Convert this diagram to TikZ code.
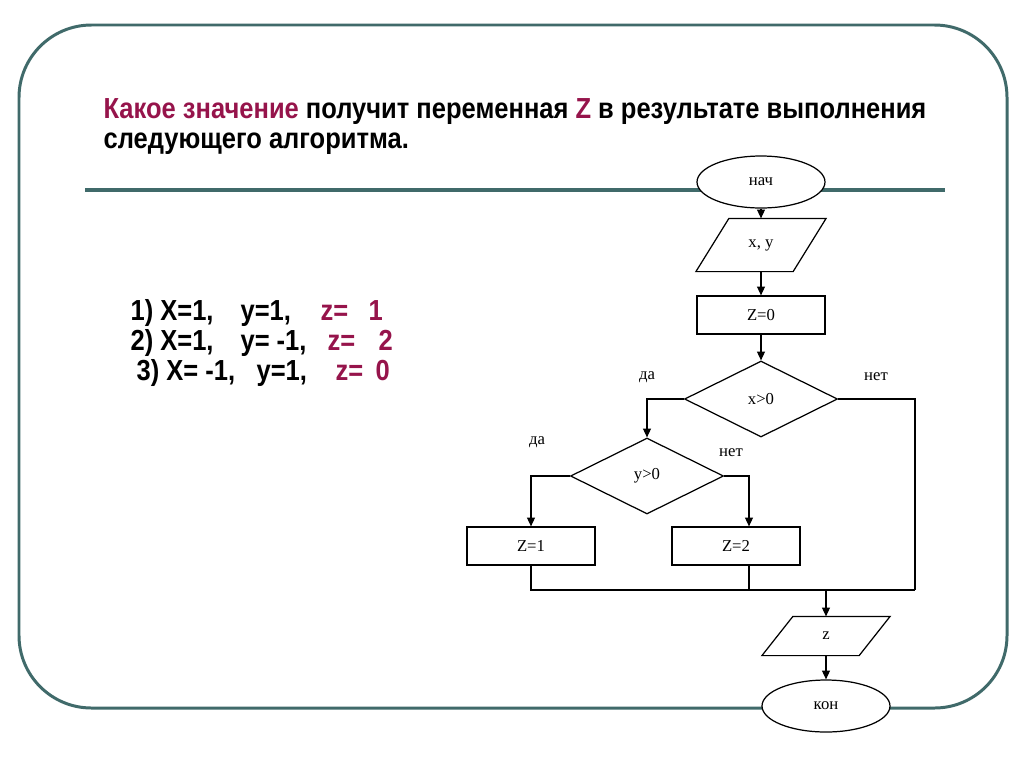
\documentclass[tikz,border=0pt]{standalone}
\usepackage{fontspec}
\setmainfont{Liberation Serif}
\newfontfamily\headfont{Liberation Sans}[FakeStretch=0.88]
\usetikzlibrary{shapes.geometric,arrows.meta}
\definecolor{framegreen}{RGB}{64,106,106}
\definecolor{accent}{RGB}{150,20,75}

\begin{document}
\begin{tikzpicture}[x=0.02cm,y=-0.02cm,>={Triangle[length=5pt,width=4.5pt]},
        line width=0.7pt,
        every node/.style={font=\fontsize{9.5}{11}\selectfont},
        terminal/.style={ellipse,draw,fill=white,minimum width=2.56cm,minimum height=1.04cm,inner sep=0pt},
        io/.style={rectangle,minimum width=1.92cm,inner sep=0pt},
        process/.style={rectangle,draw,fill=white,minimum width=2.56cm,minimum height=0.76cm,inner sep=0pt},
        decision/.style={diamond,draw,fill=white,minimum width=3.06cm,minimum height=1.52cm,inner sep=0pt},
        head/.style={anchor=base west,inner sep=0pt,font=\headfont\bfseries\fontsize{16.5}{20}\selectfont}]
        \useasboundingbox (0,0) rectangle (1024,768);
        \fill[white] (0,0) rectangle (1024,768);
        % slide frame
        \draw[framegreen,line width=1.7pt,rounded corners=1.45cm] (19,25) rectangle (1007,708);
        \draw[framegreen,line width=2.8pt] (85,190) -- (945,190);
        % question
        \node[head] (title1) at (103,118) {\textcolor{accent}{Какое значение} получит переменная \textcolor{accent}{Z} в результате выполнения};
        \node[head] (title2) at (103,148) {следующего алгоритма.};
        \node[head] (case1) at (130,320) {\makebox[2.2cm][l]{1) X=1,}\makebox[1.6cm][l]{y=1,}\textcolor{accent}{\makebox[0.96cm][l]{z=}1}};
        \node[head] (case2) at (130,350) {\makebox[2.2cm][l]{2) X=1,}\makebox[1.74cm][l]{y= -1,}\textcolor{accent}{\makebox[1.02cm][l]{z=}2}};
        \node[head] (case3) at (136,380) {\makebox[2.4cm][l]{3) X= -1,}\makebox[1.58cm][l]{y=1,}\textcolor{accent}{\makebox[0.8cm][l]{z=}0}};
        % flowchart
        \node[terminal] (start) at (761,182) {нач};
        \node[io,minimum height=1.04cm] (input) at (761,245) {x, y};
        \draw ([xshift=0.33cm]input.north west) -- ([xshift=0.33cm]input.north east)
          -- ([xshift=-0.33cm]input.south east) -- ([xshift=-0.33cm]input.south west) -- cycle;
        \node[process] (init) at (761,315) {Z=0};
        \node[decision] (ifx) at (761,399) {x>0};
        \node[decision] (ify) at (647,476) {y>0};
        \node[process] (setone) at (531,546) {Z=1};
        \node[process] (settwo) at (736,546) {Z=2};
        \node[io,minimum height=0.76cm] (output) at (826,636) {z};
        \draw ([xshift=0.31cm]output.north west) -- ([xshift=0.31cm]output.north east)
          -- ([xshift=-0.31cm]output.south east) -- ([xshift=-0.31cm]output.south west) -- cycle;
        \node[terminal] (stop) at (826,706) {кон};
        \node (yesx) at (647,377) {да};
        \node (nox) at (876,377) {нет};
        \node (yesy) at (537,442) {да};
        \node (noy) at (731,453) {нет};
        \coordinate (twoin) at ([xshift=0.26cm]settwo.north);
        \coordinate (twoout) at ([xshift=0.26cm]settwo.south);
        \coordinate (mergeR) at (915,590);
        \coordinate (mergeM) at (output.north |- mergeR);
        \draw[->] (start) -- (input);
        \draw[->] (input) -- (init);
        \draw[->] (init) -- (ifx);
        \draw[->] (ifx.west) -| (ify.north);
        \draw[->] (ify.west) -| (setone.north);
        \draw[->] (ify.east) -| (twoin);
        \draw (ifx.east) -| (mergeR);
        \draw (setone.south) |- (mergeR);
        \draw (twoout) -- (twoout |- mergeR);
        \draw[->] (mergeM) -- (output);
        \draw[->] (output) -- (stop);
\end{tikzpicture}
\end{document}
